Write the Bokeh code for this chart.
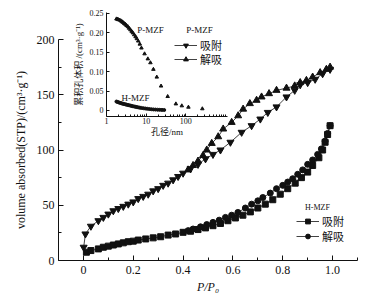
from bokeh.plotting import figure
from bokeh.models import (Range1d, FixedTicker, CustomJSTickFormatter, Legend, LegendItem,
                          Label, GridBox)
from bokeh.embed import file_html
from bokeh.resources import INLINE

# ---------------- data: main isotherms ----------------
p_ads_x = [0.001, 0.008, 0.03, 0.06, 0.08, 0.10, 0.12, 0.14, 0.16, 0.18, 0.20, 0.22, 0.24, 0.26,
           0.28, 0.30, 0.32, 0.34, 0.36, 0.38, 0.40, 0.43, 0.46, 0.49, 0.52, 0.55, 0.59, 0.635,
           0.675, 0.71, 0.74, 0.775, 0.815, 0.848, 0.87, 0.90, 0.93, 0.96, 0.99]
p_ads_y = [12, 24, 31, 36, 39, 42, 45, 47, 49, 51, 53, 56, 58, 60,
           63, 65, 68, 70, 73, 76, 79, 83, 87, 92, 96, 100, 107, 116,
           122, 128, 134, 139, 148, 154, 159, 161, 164, 169, 173]

p_des_x = [0.99, 0.975, 0.95, 0.92, 0.895, 0.87, 0.848, 0.815, 0.775, 0.745, 0.715, 0.695,
           0.668, 0.641, 0.621, 0.595, 0.561, 0.541, 0.515, 0.495, 0.48, 0.46, 0.44, 0.42]
p_des_y = [175, 173, 170, 166, 163, 161, 158, 156, 154, 151, 148, 145,
           142, 137, 131, 125, 119, 112, 106, 100, 95, 90, 86, 82]

h_ads_x = [0.012, 0.03, 0.06, 0.08, 0.10, 0.12, 0.14, 0.16, 0.18, 0.20, 0.22, 0.25, 0.28, 0.31,
           0.34, 0.37, 0.40, 0.43, 0.46, 0.49, 0.52, 0.55, 0.58, 0.61, 0.64, 0.67, 0.70, 0.73,
           0.76, 0.79, 0.82, 0.85, 0.875, 0.90, 0.92, 0.945, 0.96, 0.97, 0.98, 0.99]
h_ads_y = [7.5, 9, 10.5, 12, 13, 14, 15, 16, 17, 17.5, 18.5, 19.5, 20.5, 21.5,
           23, 24, 25.5, 26.5, 28, 29.5, 31.5, 33.5, 36, 38.5, 41, 44, 47.5, 51,
           55, 60, 65, 70, 75, 80, 86, 93, 100, 107, 114, 122]

h_des_x = [0.99, 0.98, 0.97, 0.955, 0.94, 0.92, 0.90, 0.88, 0.86, 0.84, 0.82, 0.80, 0.775,
           0.75, 0.72, 0.70, 0.675, 0.65, 0.62, 0.595, 0.57, 0.545, 0.52, 0.495, 0.47, 0.44, 0.42]
h_des_y = [122, 115, 108, 101, 96, 91, 87, 82, 78, 74, 71, 68, 65,
           61, 57, 54, 51, 47.5, 43.5, 41, 39, 36.5, 34.5, 32.5, 30.5, 28.5, 27]

# ---------------- data: inset pore volume ----------------
pm_d = [1.78, 1.90, 2.00, 2.15, 2.30, 2.45, 2.60, 2.80, 3.00, 3.20, 3.45, 3.70, 4.00, 4.30,
        4.60, 5.00, 5.40, 5.80, 6.30, 6.90, 7.60, 9.1, 11.0, 12.8, 15.2, 18.5, 23.7, 34.8,
        56, 79, 116, 260]
pm_v = [0.236, 0.235, 0.234, 0.233, 0.231, 0.229, 0.227, 0.224, 0.222, 0.219, 0.216, 0.212,
        0.208, 0.204, 0.200, 0.195, 0.190, 0.185, 0.179, 0.171, 0.161, 0.146, 0.133, 0.123,
        0.106, 0.086, 0.063, 0.036, 0.017, 0.012, 0.0085, 0.0044]

hm_d = [1.78, 1.90, 2.00, 2.15, 2.30, 2.45, 2.60, 2.80, 3.00, 3.20, 3.45, 3.70, 4.00, 4.30,
        4.60, 5.00, 5.40, 5.80, 6.30, 6.90, 7.60, 8.5, 9.5, 10.6, 12.0, 13.5, 15.2, 17.2,
        19.5, 22, 25, 28.5]
hm_v = [0.023, 0.022, 0.021, 0.020, 0.019, 0.018, 0.0175, 0.0165, 0.0158, 0.015, 0.0142,
        0.0134, 0.0126, 0.0118, 0.011, 0.0102, 0.0095, 0.0088, 0.008, 0.0073, 0.0066, 0.0058,
        0.0051, 0.0045, 0.0038, 0.0032, 0.0027, 0.0023, 0.002, 0.0017, 0.0015, 0.0013]

x_ticks = [0, 0.2, 0.4, 0.6, 0.8, 1.0]
x_minor = [-0.1, 0.1, 0.3, 0.5, 0.7, 0.9, 1.1]
y_ticks = [0, 50, 100, 150, 200]
y_minor = [25, 75, 125, 175]
in_x_ticks = [1, 10, 100]
in_x_minor = [2, 3, 4, 5, 6, 7, 8, 9, 20, 30, 40, 50, 60, 70, 80, 90, 200, 300, 400, 500, 600,
              700, 800, 900, 1000]
in_y_ticks = [0, 0.05, 0.10, 0.15, 0.20, 0.25]

labels_main = ["吸附", "解吸"]

SERIF = "'Liberation Serif'"
CJK = "'Noto Sans CJK SC'"
MIX = "'Liberation Serif', 'Noto Sans CJK SC'"
INK = "#111111"
LW = 0.8


def style_axis(ax, size, tick_in, minor_in):
    ax.axis_line_color = INK
    ax.major_tick_line_color = INK
    ax.minor_tick_line_color = INK
    ax.major_tick_in = tick_in
    ax.major_tick_out = 0
    ax.minor_tick_in = minor_in
    ax.minor_tick_out = 0
    ax.major_label_text_font = SERIF
    ax.major_label_text_font_size = size
    ax.major_label_text_color = INK
    ax.axis_label_text_color = INK
    ax.axis_label_text_font_style = "normal"


def one_item_legend(label, renderers, loc, font_size):
    return Legend(items=[LegendItem(label=label, renderers=renderers)],
                  location=loc, orientation="vertical",
                  background_fill_alpha=0, border_line_color=None, padding=0, margin=0,
                  spacing=0, glyph_width=23, glyph_height=12, label_height=12,
                  label_standoff=3, label_text_font=CJK, label_text_font_size=font_size,
                  label_text_color=INK, inactive_fill_alpha=0)


def text_label(fig, x, y, text, size):
    fig.add_layout(Label(x=x, y=y, x_units="screen", y_units="screen", text=text,
                         text_font=SERIF, text_font_size=size, text_align="center",
                         text_baseline="middle", text_color=INK))


# ---------------- main figure ----------------
p = figure(frame_width=299, frame_height=221, x_range=Range1d(-0.1, 1.1),
           y_range=Range1d(0, 200),
           output_backend="svg", toolbar_location=None, title=None,
           min_border_left=50, min_border_right=2, min_border_top=31, min_border_bottom=36)
p.xgrid.visible = False
p.ygrid.visible = False
p.outline_line_color = None

xa = p.xaxis[0]
ya = p.yaxis[0]
style_axis(xa, "12px", 5, 3)
style_axis(ya, "12px", 5, 3)
xa.ticker = FixedTicker(ticks=x_ticks, minor_ticks=x_minor)
ya.ticker = FixedTicker(ticks=y_ticks, minor_ticks=y_minor)
xa.formatter = CustomJSTickFormatter(code="return tick == 0 ? '0' : tick.toFixed(1);")
xa.axis_label = "P/P₀"
xa.axis_label_text_font = SERIF
xa.axis_label_text_font_style = "italic"
xa.axis_label_text_font_size = "12px"
xa.major_label_standoff = 5
xa.axis_label_standoff = 3
ya.axis_label = "volume absorbed(STP)/(cm³·g⁻¹)"
ya.axis_label_text_font = SERIF
ya.axis_label_text_font_size = "12px"
ya.major_label_standoff = 4
ya.axis_label_standoff = 6

p.line(p_ads_x, p_ads_y, line_color=INK, line_width=LW)
p.scatter(p_ads_x, p_ads_y, marker="inverted_triangle", size=7, color=INK)
p.line(p_des_x, p_des_y, line_color=INK, line_width=LW)
p.scatter(p_des_x, p_des_y, marker="triangle", size=7, color=INK)
hl1 = p.line(h_ads_x, h_ads_y, line_color=INK, line_width=LW)
hs1 = p.scatter(h_ads_x, h_ads_y, marker="square", size=6, color=INK)
hl2 = p.line(h_des_x, h_des_y, line_color=INK, line_width=LW)
hs2 = p.scatter(h_des_x, h_des_y, marker="circle", size=6, color=INK)

p.add_layout(one_item_legend(labels_main[0], [hl1, hs1], (238, 31), "11px"))
p.add_layout(one_item_legend(labels_main[1], [hl2, hs2], (238, 16), "11px"))
text_label(p, 259, 53, "H-MZF", "8px")

# inset legend (P-MZF) drawn by the main figure; hidden renderers give the glyphs
dl1 = p.line(p_ads_x, p_ads_y, line_color=INK, line_width=LW, visible=False)
ds1 = p.scatter(p_ads_x, p_ads_y, marker="inverted_triangle", size=7, color=INK, visible=False)
dl2 = p.line(p_des_x, p_des_y, line_color=INK, line_width=LW, visible=False)
ds2 = p.scatter(p_des_x, p_des_y, marker="triangle", size=7, color=INK, visible=False)
p.add_layout(one_item_legend(labels_main[0], [dl1, ds1], (116, 207), "11px"))
p.add_layout(one_item_legend(labels_main[1], [dl2, ds2], (116, 193), "11px"))
text_label(p, 77, 163, "H-MZF", "9px")

# ---------------- inset figure ----------------
q = figure(frame_width=122, frame_height=104, x_axis_type="log", x_range=Range1d(1, 1120),
           y_range=Range1d(-0.0155, 0.2525), output_backend="svg", toolbar_location=None,
           title=None, align="start",
           min_border_left=35, min_border_right=7, min_border_top=4, min_border_bottom=26,
           background_fill_color=None, border_fill_color=None)
q.xgrid.visible = False
q.ygrid.visible = False
q.outline_line_color = None
qx = q.xaxis[0]
qy = q.yaxis[0]
style_axis(qx, "8px", 3, 2)
style_axis(qy, "8px", 3, 2)
qx.ticker = FixedTicker(ticks=in_x_ticks, minor_ticks=in_x_minor)
qx.formatter = CustomJSTickFormatter(code="return tick.toFixed(0);")
qy.ticker = FixedTicker(ticks=in_y_ticks, minor_ticks=[])
qy.formatter = CustomJSTickFormatter(code="return tick == 0 ? '0' : tick.toFixed(2);")
qx.major_label_standoff = 1
qy.major_label_standoff = 3
qx.axis_label = "孔径/nm"
qx.axis_label_text_font = MIX
qx.axis_label_text_font_size = "9px"
qx.axis_label_standoff = 0
qy.axis_label = "累积孔体积 /(cm³·g⁻¹)"
qy.axis_label_text_font = MIX
qy.axis_label_text_font_size = "9px"
qy.axis_label_standoff = 3

q.scatter(pm_d, pm_v, marker="triangle", size=3.5, color=INK)
q.scatter(hm_d, hm_v, marker="circle", size=3, color=INK)
text_label(q, 93, 87, "P-MZF", "9px")
text_label(q, 44, 87, "P-MZF", "9px")

layout = GridBox(children=[(p, 1, 0, 2, 3), (q, 0, 1, 2, 1)],
                 rows=["0px", "164px", "124px"], cols=["62px", "164px", "125px"], spacing=0,
                 margin=(8, 0, 0, 8))

open("out.html", "w").write(file_html(layout, INLINE))
